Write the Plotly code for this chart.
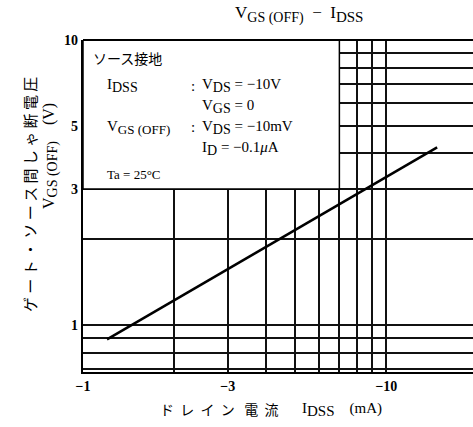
import plotly.graph_objects as go
import math

# ---- data ----
idss_ma = [-1.2, -14.7]          # drain current IDSS (mA)
vgs_off = [0.89, 4.2]            # gate-source cutoff voltage |VGS(OFF)| (V)

x_grid = [1, 2, 3, 4, 5, 6, 7, 8, 9, 10]
x_ticktext = ["−1", "", "−3", "", "", "", "", "", "", "−10"]
y_grid = [0.7, 0.8, 0.9, 1, 2, 3, 4, 5, 6, 7, 8, 9, 10]
y_ticktext = ["", "", "", "1", "", "3", "", "5", "", "", "", "", "10"]

W, H = 473, 427
L, R, T, B = 83, 0, 40, 55
PW, PH = W - L - R, H - T - B

def px(x):
    return (x - L) / PW

def py(y):
    return (H - B - y) / PH

SERIF = "Liberation Serif, DejaVu Serif, serif"
JP = "Noto Sans CJK JP, sans-serif"
NB = "\u00a0"

def sub(s, size=14):
    return f"<sub><span style='font-size:{size}px'>{s}</span></sub>"

def spaced(s, n=1):
    return (NB * n).join(list(s))

fig = go.Figure()
fig.add_trace(go.Scatter(
    x=[abs(v) for v in idss_ma], y=vgs_off, mode="lines",
    line=dict(color="black", width=2.5), showlegend=False, hoverinfo="skip"))

grid_col = "#111111"
tickfont = dict(family=SERIF, size=14, color="black", weight="bold")
fig.update_xaxes(type="log", range=[0, math.log10(19.3)],
                 tickvals=x_grid, ticktext=x_ticktext, ticks="",
                 showgrid=True, gridcolor=grid_col, gridwidth=1.5,
                 showline=True, linecolor="black", linewidth=2.2,
                 tickfont=tickfont, zeroline=False)
fig.update_yaxes(type="log", range=[-0.165, 1.0],
                 tickvals=y_grid, ticktext=y_ticktext, ticks="",
                 showgrid=True, gridcolor=grid_col, gridwidth=1.5,
                 showline=True, linecolor="black", linewidth=2.2,
                 tickfont=tickfont, zeroline=False)

# top border
fig.add_shape(type="line", xref="paper", yref="paper", x0=0, x1=1, y0=1, y1=1,
              line=dict(color="black", width=2.2))
# condition box
fig.add_shape(type="rect", xref="x", yref="y", x0=1, x1=7, y0=3, y1=10,
              fillcolor="white", line=dict(color="black", width=1.5), layer="between")

ann = []
def txt(x, y, s, size=15, family=SERIF, xanchor="left", angle=0):
    ann.append(dict(x=px(x), y=py(y), xref="paper", yref="paper", text=s,
                    showarrow=False, xanchor=xanchor, yanchor="middle",
                    textangle=angle, font=dict(family=family, size=size, color="black")))

txt(91, 58, "ソース接地", size=14, family=JP)
txt(105, 86, "I" + sub("DSS"))
txt(189, 86, ":")
txt(200, 86, "V" + sub("DS") + " = −10V")
txt(200, 107, "V" + sub("GS") + " = 0")
txt(105, 127, "V" + sub("GS (OFF)", 13))
txt(189, 127, ":")
txt(200, 127, "V" + sub("DS") + " = −10mV")
txt(200, 148, "I" + sub("D") + " = −0.1<i>μ</i>A")
txt(105, 174, "Ta = 25°C", size=13)

# title
txt(299, 15, "V" + sub("GS (OFF)", 14) + "  −  I" + sub("DSS", 15), size=17, xanchor="center")
# x axis title
txt(158, 409, spaced("ドレイン", 2) + NB * 3 + spaced("電流", 2), size=14, family=JP)
txt(300, 409, "I" + sub("DSS", 15) + NB * 4 + "(mA)", size=15)
# y axis title
txt(29, 195, spaced("ゲート・ソース間しゃ断電圧", 1), size=15, family=JP, angle=-90)
txt(50, 156, "V" + sub("GS (OFF)", 14) + NB * 4 + "(V)", size=16, angle=-90)

for a in ann:
    if a["textangle"] == -90:
        a["xanchor"] = "center"

fig.update_layout(width=W, height=H, margin=dict(l=L, r=R, t=T, b=B),
                  paper_bgcolor="white", plot_bgcolor="white",
                  annotations=ann, showlegend=False)

fig.write_html("out.html", config={"displayModeBar": False},
               post_script="document.body.style.margin='0px';document.body.style.overflow='hidden';")
